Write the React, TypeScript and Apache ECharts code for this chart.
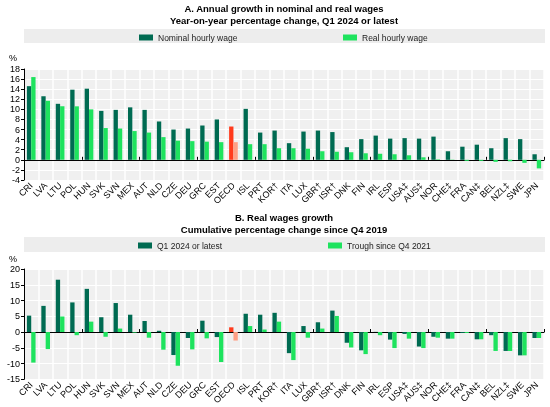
import React, { useEffect, useRef } from "react";
import * as echarts from "echarts";

const countries = ["CRI","LVA","LTU","POL","HUN","SVK","SVN","MEX","AUT","NLD","CZE","DEU","GRC","EST","OECD","ISL","PRT","KOR†","ITA","LUX","GBR†","ISR†","DNK","FIN","IRL","ESP","USA‡","AUS‡","NOR","CHE‡","FRA","CAN‡","BEL","NZL‡","SWE","JPN"];

const nominalWage = [14.6,12.6,11.1,13.9,14.1,9.7,9.9,10.4,9.9,7.6,6.0,6.2,6.8,8.0,6.6,10.1,5.4,5.8,3.3,5.6,5.8,5.5,2.5,4.1,4.8,4.2,4.3,4.2,4.6,1.7,2.6,3.0,2.3,4.3,4.1,1.1];
const realWage = [16.4,11.7,10.6,10.6,10.0,6.3,6.2,5.7,5.4,4.5,3.8,3.7,3.6,3.5,3.5,3.1,3.1,2.3,2.3,2.2,1.7,1.6,1.5,1.3,1.2,1.1,0.9,0.5,0.1,0.05,-0.2,-0.2,-0.4,-0.3,-0.6,-1.7];

const latestQ1 = [5.2,8.3,16.6,9.4,13.7,4.7,9.2,5.5,3.5,0.4,-7.3,-1.9,3.6,-1.6,1.5,5.8,5.5,6.1,-6.7,1.9,3.1,6.8,-3.4,-5.8,0.05,-2.4,-0.6,-4.6,-1.5,-2.1,-0.3,-2.3,-1.0,-6.0,-7.4,-1.9];
const troughSince2021 = [-9.7,-5.4,4.9,-1.0,3.3,-1.5,1.1,-0.2,-1.8,-5.6,-10.7,-5.5,-2.0,-9.5,-2.7,1.9,0.8,3.3,-8.9,-1.8,1.1,5.1,-4.9,-7.0,-1.0,-5.1,-2.1,-5.1,-1.8,-2.1,-0.3,-2.3,-6.0,-6.0,-7.4,-1.9];

const FONT = "'Liberation Sans Narrow', 'Arial Narrow', 'Liberation Sans', Arial, sans-serif";
const DARK = "#006b52";
const LIGHT = "#1ee35e";
const RED = "#ff3a1c";
const SALMON = "#ff9f85";
const OECD_INDEX = countries.indexOf("OECD");

function colored(values: number[], special: string) {
  return values.map((v, i) => (i === OECD_INDEX ? { value: v, itemStyle: { color: special } } : v));
}

export default function App() {
  const ref = useRef<HTMLDivElement>(null);
  useEffect(() => {
    if (!ref.current) return;
    const chart = echarts.init(ref.current, undefined, { renderer: "svg" });
    const gridLeft = 24;
    const gridRight = 6;
    const grids = [
      { left: gridLeft, right: gridRight, top: 69, height: 111, show: true, backgroundColor: "#f0f0f0", borderWidth: 0 },
      { left: gridLeft, right: gridRight, top: 269, height: 111, show: true, backgroundColor: "#f0f0f0", borderWidth: 0 },
    ];
    const labelAxis = (gi: number) => ({
      type: "category",
      gridIndex: gi,
      data: countries,
      position: "bottom",
      axisLine: { show: false, onZero: false },
      axisTick: { show: false },
      splitLine: { show: true, lineStyle: { color: "#ffffff", width: 1.5 } },
      axisLabel: { rotate: 45, fontSize: 9, color: "#000", fontFamily: FONT, margin: 4, interval: 0 },
    });
    const zeroAxis = (gi: number) => ({
      type: "category",
      gridIndex: gi,
      data: countries,
      position: "top",
      axisLine: { show: true, onZero: true, lineStyle: { color: "#000", width: 1 } },
      axisTick: { show: true, length: 3, lineStyle: { color: "#000" } },
      axisLabel: { show: false },
      splitLine: { show: false },
    });
    const valAxis = (gi: number, min: number, max: number, interval: number) => ({
      type: "value",
      gridIndex: gi,
      min,
      max,
      interval,
      axisLine: { show: true, lineStyle: { color: "#000", width: 1 } },
      axisTick: { show: true, length: 3, lineStyle: { color: "#000" } },
      axisLabel: { fontSize: 9, color: "#000", fontFamily: FONT, margin: 4 },
      splitLine: { show: true, lineStyle: { color: "#ffffff", width: 1 } },
    });
    const barCommon = { type: "bar", barWidth: "30%", barGap: "0%" };
    const legendCommon = {
      itemWidth: 14,
      itemHeight: 6,
      itemGap: 4,
      icon: "rect",
      textStyle: { fontSize: 8.5, color: "#222", fontFamily: FONT },
      padding: 0,
    };
    const titleStyle = { fontSize: 9.5, fontWeight: "bold", color: "#000", fontFamily: FONT, lineHeight: 12, align: "center" };
    chart.setOption({
      animation: false,
      textStyle: { fontFamily: FONT },
      title: [
        {
          text: "A. Annual growth in nominal and real wages\nYear-on-year percentage change, Q1 2024 or latest",
          left: 284,
          top: 2,
          textAlign: "center",
          padding: 0,
          textStyle: titleStyle,
        },
        {
          text: "B. Real wages growth\nCumulative percentage change since Q4 2019",
          left: 284,
          top: 211,
          textAlign: "center",
          padding: 0,
          textStyle: titleStyle,
        },
      ],
      graphic: [
        { type: "rect", z: -1, shape: { x: 24, y: 29, width: 521, height: 14 }, style: { fill: "#ededed" } },
        { type: "rect", z: -1, shape: { x: 24, y: 237, width: 521, height: 15 }, style: { fill: "#ededed" } },
        { type: "text", x: 13, y: 58, style: { text: "%", fill: "#000", font: `9px ${FONT}`, align: "center", verticalAlign: "middle" } },
        { type: "text", x: 13, y: 259, style: { text: "%", fill: "#000", font: `9px ${FONT}`, align: "center", verticalAlign: "middle" } },
      ],
      legend: [
        { ...legendCommon, data: ["Nominal hourly wage"], left: 139, top: 33 },
        { ...legendCommon, data: ["Real hourly wage"], left: 343, top: 33 },
        { ...legendCommon, data: ["Q1 2024 or latest"], left: 138, top: 241 },
        { ...legendCommon, data: ["Trough since Q4 2021"], left: 328, top: 241 },
      ],
      grid: grids,
      xAxis: [labelAxis(0), zeroAxis(0), labelAxis(1), zeroAxis(1)],
      yAxis: [valAxis(0, -4, 18, 2), valAxis(1, -15, 20, 5)],
      series: [
        { ...barCommon, name: "Nominal hourly wage", xAxisIndex: 0, yAxisIndex: 0, itemStyle: { color: DARK }, data: colored(nominalWage, RED) },
        { ...barCommon, name: "Real hourly wage", xAxisIndex: 0, yAxisIndex: 0, itemStyle: { color: LIGHT }, data: colored(realWage, SALMON) },
        { ...barCommon, name: "Q1 2024 or latest", xAxisIndex: 2, yAxisIndex: 1, itemStyle: { color: DARK }, data: colored(latestQ1, RED) },
        { ...barCommon, name: "Trough since Q4 2021", xAxisIndex: 2, yAxisIndex: 1, itemStyle: { color: LIGHT }, data: colored(troughSince2021, SALMON) },
      ],
    });
    return () => chart.dispose();
  }, []);
  return <div ref={ref} style={{ position: "fixed", left: 0, top: 0, width: 550, height: 407 }} />;
}
